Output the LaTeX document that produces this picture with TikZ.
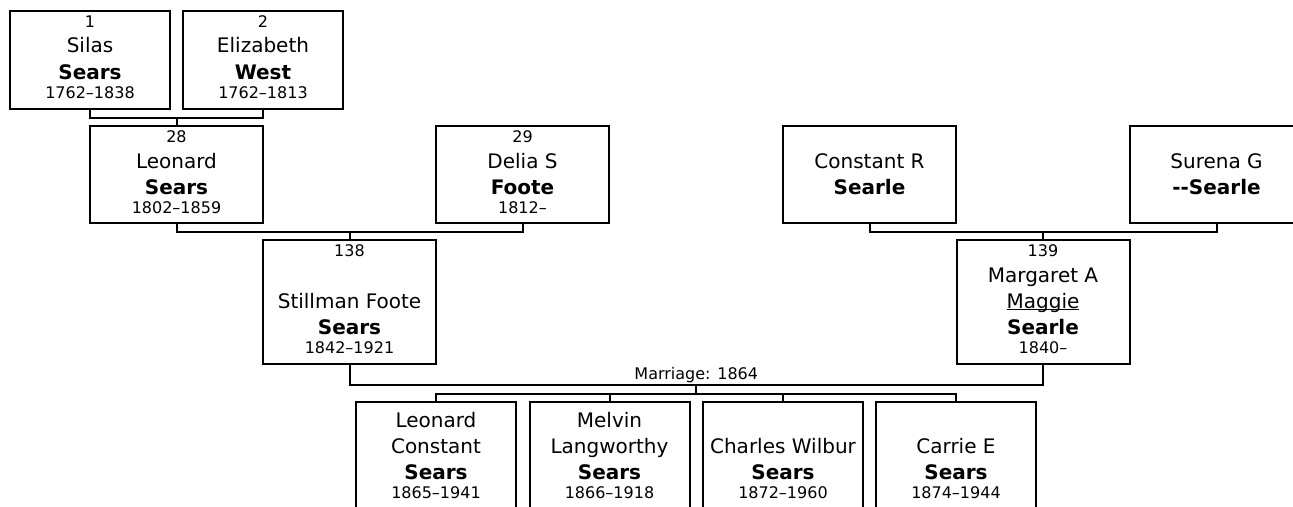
\documentclass[tikz,border=0pt]{standalone}
\usepackage{fontspec}
\setmainfont{DejaVu Sans}
\usetikzlibrary{calc}

\newcommand{\bigtxt}{\fontsize{20}{26}\selectfont}
\newcommand{\smalltxt}{\fontsize{16}{26}\selectfont}
\newcommand{\card}[4][0pt]{\parbox[c][#3][t]{#2}{\vspace*{#1}\centering\bigtxt\rule{0pt}{16pt}#4\par}}

\begin{document}
\begin{tikzpicture}[
    x=1pt, y=-1pt,
    person/.style={draw, line width=2pt, inner sep=0pt},
    link/.style={line width=2pt},
    note/.style={font=\smalltxt, inner sep=2pt},
]
\useasboundingbox (0,0) rectangle (1293,506);
\clip (0,0) rectangle (1293,506);

% Great-grandparents
\node[person] (silas) at (90,60) {\card{160pt}{98pt}{{\smalltxt 1}\\Silas\\\textbf{Sears}\\[-7pt]{\smalltxt 1762--1838}}};
\node[person] (eliz) at (263,60) {\card{160pt}{98pt}{{\smalltxt 2}\\Elizabeth\\\textbf{West}\\[-7pt]{\smalltxt 1762--1813}}};

% Grandparents
\node[person] (leonard) at (176.5,174.5) {\card{173pt}{97pt}{{\smalltxt 28}\\Leonard\\\textbf{Sears}\\[-7pt]{\smalltxt 1802--1859}}};
\node[person] (delia) at (522.5,174.5) {\card{173pt}{97pt}{{\smalltxt 29}\\Delia S\\\textbf{Foote}\\[-7pt]{\smalltxt 1812--}}};
\node[person] (constant) at (869.5,174.5) {\card{173pt}{97pt}{\mbox{}\\Constant R\\\textbf{Searle}}};
\node[person] (surena) at (1216.5,174.5) {\card{173pt}{97pt}{\mbox{}\\Surena G\\\textbf{-\kern0pt-Searle}}};

% Parents
\node[person] (stillman) at (349.5,302) {\card{173pt}{124pt}{{\smalltxt 138}\\\mbox{}\\Stillman Foote\\\textbf{Sears}\\[-7pt]{\smalltxt 1842--1921}}};
\node[person] (margaret) at (1043,302) {\card{173pt}{124pt}{{\smalltxt 139}\\Margaret A\\\underline{\smash{Maggie}}\\\textbf{Searle}\\[-7pt]{\smalltxt 1840--}}};

% Children
\node[person] (kid1) at (436,457.7) {\card[10pt]{160pt}{112pt}{Leonard\\Constant\\\textbf{Sears}\\[-7pt]{\smalltxt 1865--1941}}};
\node[person] (kid2) at (609.5,457.7) {\card[10pt]{160pt}{112pt}{Melvin\\Langworthy\\\textbf{Sears}\\[-7pt]{\smalltxt 1866--1918}}};
\node[person] (kid3) at (783,457.7) {\card[10pt]{160pt}{112pt}{\mbox{}\\Charles Wilbur\\\textbf{Sears}\\[-7pt]{\smalltxt 1872--1960}}};
\node[person] (kid4) at (956,457.7) {\card[10pt]{160pt}{112pt}{\mbox{}\\Carrie E\\\textbf{Sears}\\[-7pt]{\smalltxt 1874--1944}}};

% Couple bars
\coordinate (bar1) at ($(silas.south)!0.5!(eliz.south) + (0,8)$);
\coordinate (bar2) at ($(leonard.south)!0.5!(delia.south) + (0,8)$);
\coordinate (bar3) at ($(constant.south)!0.5!(surena.south) + (0,8)$);
\coordinate (wed) at ($(stillman.south)!0.5!(margaret.south) + (0,20)$);
\coordinate (kidbar) at ($(wed) + (0,8.7)$);

\draw[link] (silas.south) |- (bar1) -| (eliz.south);
\draw[link] (bar1) -- (leonard.north);
\draw[link] (leonard.south) |- (bar2) -| (delia.south);
\draw[link] (bar2) -- (stillman.north);
\draw[link] (constant.south) |- (bar3) -| (surena.south);
\draw[link] (bar3) -- (margaret.north);

% Marriage and children
\draw[link] (stillman.south) |- (wed) -| (margaret.south);
\node[note, above] (wedlabel) at (wed) {Marriage: 1864};
\draw[link] (wed) -- (kidbar);
\draw[link] (kid1.north) |- (kidbar) -| (kid4.north);
\foreach \k in {kid2,kid3}
    \draw[link] (\k.north) -- (\k.north |- kidbar);

\end{tikzpicture}
\end{document}
